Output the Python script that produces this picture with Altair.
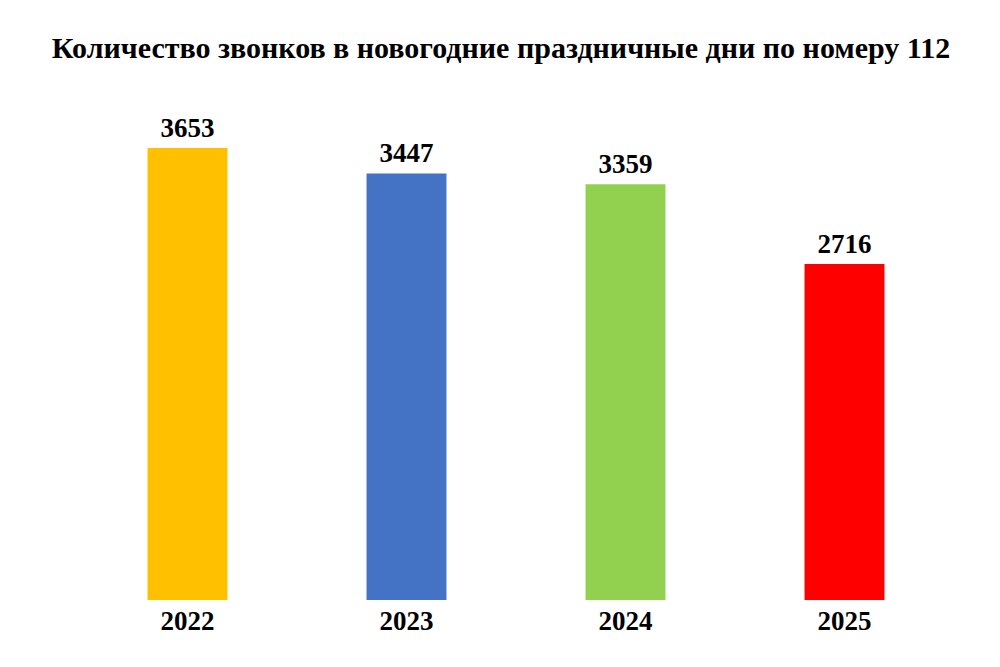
import altair as alt
import pandas as pd

years = ["2022", "2023", "2024", "2025"]
calls = [3653, 3447, 3359, 2716]
colors = ["#FFC000", "#4472C4", "#92D050", "#FF0000"]

df = pd.DataFrame({"year": years, "calls": calls})

FONT = "Liberation Serif"

x = alt.X("year:N", sort=years,
          scale=alt.Scale(paddingInner=0.635, paddingOuter=0.3175),
          axis=alt.Axis(title=None, domain=False, ticks=False, labelAngle=0,
                        labelFont=FONT, labelFontSize=27, labelFontWeight="bold",
                        labelColor="#000000", labelPadding=8))
y = alt.Y("calls:Q", scale=alt.Scale(domain=[0, 4000], nice=False), axis=None)

bars = alt.Chart(df).mark_bar().encode(
    x=x, y=y,
    color=alt.Color("year:N", scale=alt.Scale(domain=years, range=colors), legend=None),
)
labels = alt.Chart(df).mark_text(
    font=FONT, fontSize=27, fontWeight="bold", color="#000000",
    baseline="alphabetic", dy=-11,
).encode(x=x, y=y, text=alt.Text("calls:Q", format="d"))

chart = (bars + labels).properties(
    width=876, height=495,
    title=alt.TitleParams(
        "Количество звонков в новогодние праздничные дни по номеру 112",
        font=FONT, fontSize=30, fontWeight="bold", color="#000000",
        anchor="middle", offset=41, dx=-15,
    ),
    padding={"left": 70, "top": 97, "right": 10, "bottom": 50},
    autosize=alt.AutoSizeParams(type="none"),
    background="#ffffff",
).configure_view(strokeWidth=0)

chart.save("out.html", embed_options={"renderer": "svg", "actions": False})
